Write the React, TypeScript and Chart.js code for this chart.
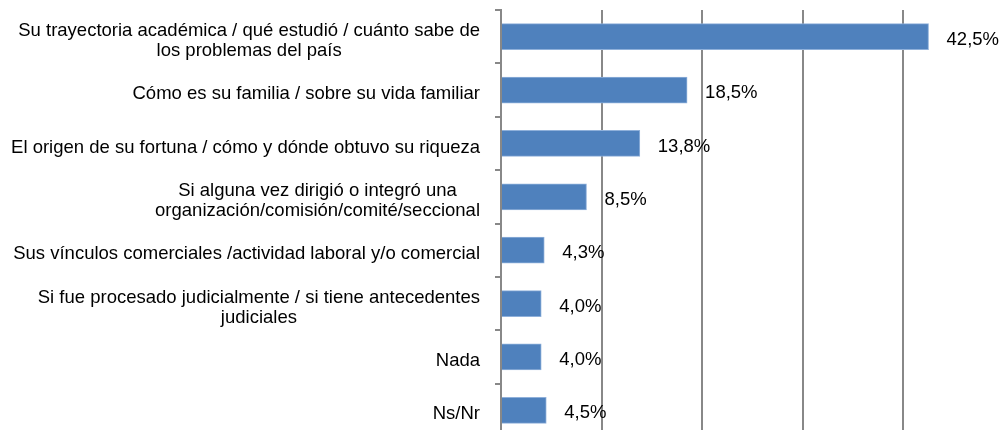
import React, { useEffect, useRef } from "react";
import { Chart, registerables } from "chart.js";

Chart.register(...registerables);

const categories: string[][] = [
  ["Su trayectoria académica / qué estudió / cuánto sabe de", "los problemas del país"],
  ["Cómo es su familia / sobre su vida familiar"],
  ["El origen de su fortuna / cómo y dónde obtuvo su riqueza"],
  ["Si alguna vez dirigió o integró una", "organización/comisión/comité/seccional"],
  ["Sus vínculos comerciales /actividad laboral y/o comercial"],
  ["Si fue procesado judicialmente / si tiene antecedentes", "judiciales"],
  ["Nada"],
  ["Ns/Nr"],
];

const values: number[] = [42.5, 18.5, 13.8, 8.5, 4.3, 4.0, 4.0, 4.5];

const valueLabels: string[] = ["42,5%", "18,5%", "13,8%", "8,5%", "4,3%", "4,0%", "4,0%", "4,5%"];

const FONT = "18.5px 'Liberation Sans', Arial, sans-serif";

const labelsPlugin = {
  id: "customLabels",
  afterDraw(chart: any) {
    const ctx = chart.ctx;
    const yScale = chart.scales.y;
    const meta = chart.getDatasetMeta(0);
    ctx.save();
    ctx.font = FONT;
    ctx.fillStyle = "#000000";
    ctx.textBaseline = "middle";
    // category labels: block right-aligned, lines centered within block
    const rightEdge = yScale.right - 21;
    const lineH = 20;
    categories.forEach((lines, i) => {
      const y = yScale.getPixelForTick(i) + 4;
      const widths = lines.map((l) => ctx.measureText(l).width);
      const maxW = Math.max(...widths);
      const cx = rightEdge - maxW / 2;
      ctx.textAlign = "center";
      lines.forEach((l, j) => {
        const ly = y + (j - (lines.length - 1) / 2) * lineH;
        ctx.fillText(l, cx, ly);
      });
    });
    // value labels
    ctx.textAlign = "left";
    meta.data.forEach((bar: any, i: number) => {
      ctx.fillText(valueLabels[i], bar.x + 18, bar.y + 3);
    });
    ctx.restore();
  },
};

export default function App() {
  const canvasRef = useRef<HTMLCanvasElement | null>(null);

  useEffect(() => {
    if (!canvasRef.current) return;
    const chart = new Chart(canvasRef.current, {
      type: "bar",
      data: {
        labels: categories.map((c) => c.join(" ")),
        datasets: [
          {
            data: values,
            backgroundColor: "#4F81BD",
            borderColor: "#8FB0DA",
            borderWidth: 1,
            barThickness: 26,
          },
        ],
      },
      options: {
        indexAxis: "y",
        animation: false,
        responsive: true,
        maintainAspectRatio: false,
        layout: { padding: { top: 10, left: 0, right: 0, bottom: 0 } },
        plugins: {
          legend: { display: false },
          tooltip: { enabled: false },
          title: { display: false },
        },
        scales: {
          x: {
            min: 0,
            max: 50,
            ticks: { display: false, stepSize: 10 },
            grid: {
              display: true,
              color: "#888888",
              lineWidth: 2,
              drawTicks: false,
            },
            border: { display: false },
            afterFit: (s: any) => {
              s.height = 0;
            },
          },
          y: {
            ticks: { display: false },
            grid: {
              display: true,
              offset: true,
              drawOnChartArea: false,
              drawTicks: true,
              tickLength: 6,
              color: "#888888",
              lineWidth: 2,
            },
            border: { display: true, color: "#888888", width: 2 },
            afterFit: (s: any) => {
              s.width = 501;
            },
          },
        },
      },
      plugins: [labelsPlugin],
    });
    return () => chart.destroy();
  }, []);

  return (
    <div
      style={{
        position: "fixed",
        left: 0,
        top: 0,
        width: 1001,
        height: 430,
        overflow: "hidden",
        background: "#ffffff",
      }}
    >
      <div style={{ position: "absolute", left: 0, top: 0, width: 1004, height: 437 }}>
        <canvas ref={canvasRef} />
      </div>
    </div>
  );
}
